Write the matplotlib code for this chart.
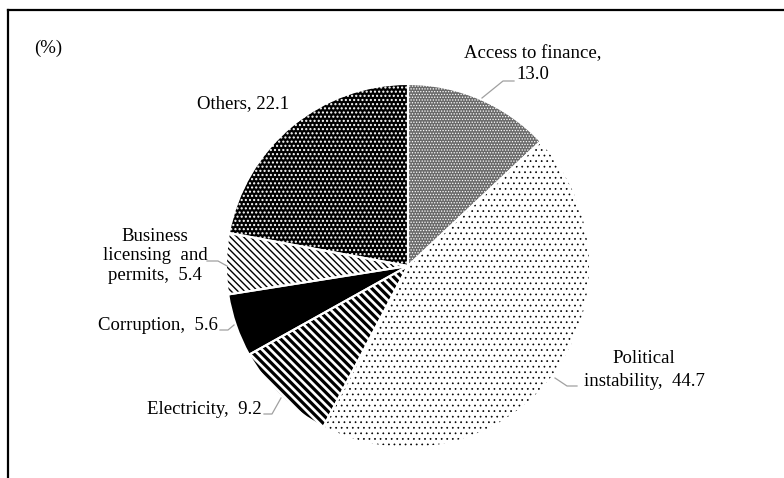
import numpy as np
import matplotlib
matplotlib.use('Agg')
import matplotlib.pyplot as plt
from matplotlib.lines import Line2D

# --- data ---
categories = ['Access to finance', 'Political instability', 'Electricity',
              'Corruption', 'Business licensing and permits', 'Others']
shares = [13.0, 44.7, 9.2, 5.6, 5.4, 22.1]
label_texts = ['Access to finance,\n13.0', 'Political\ninstability,  44.7',
               'Electricity,  9.2', 'Corruption,  5.6',
               'Business\nlicensing  and\npermits,  5.4', 'Others, 22.1']

plt.rcParams['font.family'] = ['Liberation Serif', 'DejaVu Serif']

W, H = 784, 478
fig = plt.figure(figsize=(W / 100, H / 100), dpi=100)
ax = fig.add_axes([0, 0, 1, 1])

cx, cy, r = 408, H - 266, 182

wedges, _ = ax.pie(shares, startangle=90, counterclock=False,
                   center=(cx, cy), radius=r, frame=True)

# fill styles: (face, hatch colour, hatch, hatch linewidth)
styles = [
    ('#6a6a6a', 'white', '......', 0.6),
    ('white', 'black', '...', 0.5),
    ('white', 'black', '\\\\\\\\', 2.3),
    ('black', 'black', None, 1.0),
    ('white', 'black', '\\\\\\\\\\', 1.0),
    ('black', 'white', '....', 1.0),
]
for w, (fc, hc, hatch, hlw) in zip(wedges, styles):
    w.set_facecolor(fc)
    w.set_edgecolor(hc)
    w.set_linewidth(0)
    if hatch:
        w.set_hatch(hatch)
        if hasattr(w, 'set_hatch_linewidth'):
            w.set_hatch_linewidth(hlw)

# white separators between slices
sep, _ = ax.pie(shares, startangle=90, counterclock=False,
                center=(cx, cy), radius=r, frame=True)
for w in sep:
    w.set_facecolor('none')
    w.set_edgecolor('white')
    w.set_linewidth(1.5)

ax.set_xlim(0, W)
ax.set_ylim(0, H)
ax.set_aspect('equal')
ax.axis('off')

fs = 13.5
lead = dict(color='#a0a0a0', lw=0.9)

ax.text(34, H - 48, '(%)', fontsize=fs, va='center', ha='left')

# Access to finance
ax.text(533, H - 64, label_texts[0], fontsize=fs, ha='center', va='center',
        linespacing=1.35)
ax.plot([514, 503, 482], [H - 81, H - 81, H - 98], **lead)

# Political instability
ax.text(644, H - 370, label_texts[1], fontsize=fs, ha='center', va='center',
        linespacing=1.4)
ax.plot([577, 567, 555], [H - 386, H - 386, H - 378], **lead)

# Electricity
ax.text(262, H - 410, label_texts[2], fontsize=fs, ha='right', va='center')
ax.plot([264, 272, 281], [H - 414, H - 414, H - 398], **lead)

# Corruption
ax.text(218, H - 326, label_texts[3], fontsize=fs, ha='right', va='center')
ax.plot([220, 228, 234], [H - 330, H - 330, H - 325], **lead)

# Business licensing and permits
ax.text(155, H - 256, label_texts[4], fontsize=fs, ha='center', va='center',
        linespacing=1.2)
ax.plot([207, 218, 227], [H - 261, H - 261, H - 266], **lead)

# Others
ax.text(243, H - 104, label_texts[5], fontsize=fs, ha='center', va='center')

# frame (left and top edges visible)
fig.add_artist(Line2D([8 / W, 8 / W], [0, 1 - 10 / H], color='black', lw=1.6,
                      transform=fig.transFigure))
fig.add_artist(Line2D([8 / W, 1], [1 - 10 / H, 1 - 10 / H], color='black', lw=1.6,
                      transform=fig.transFigure))

fig.savefig('out.png', dpi=100)
